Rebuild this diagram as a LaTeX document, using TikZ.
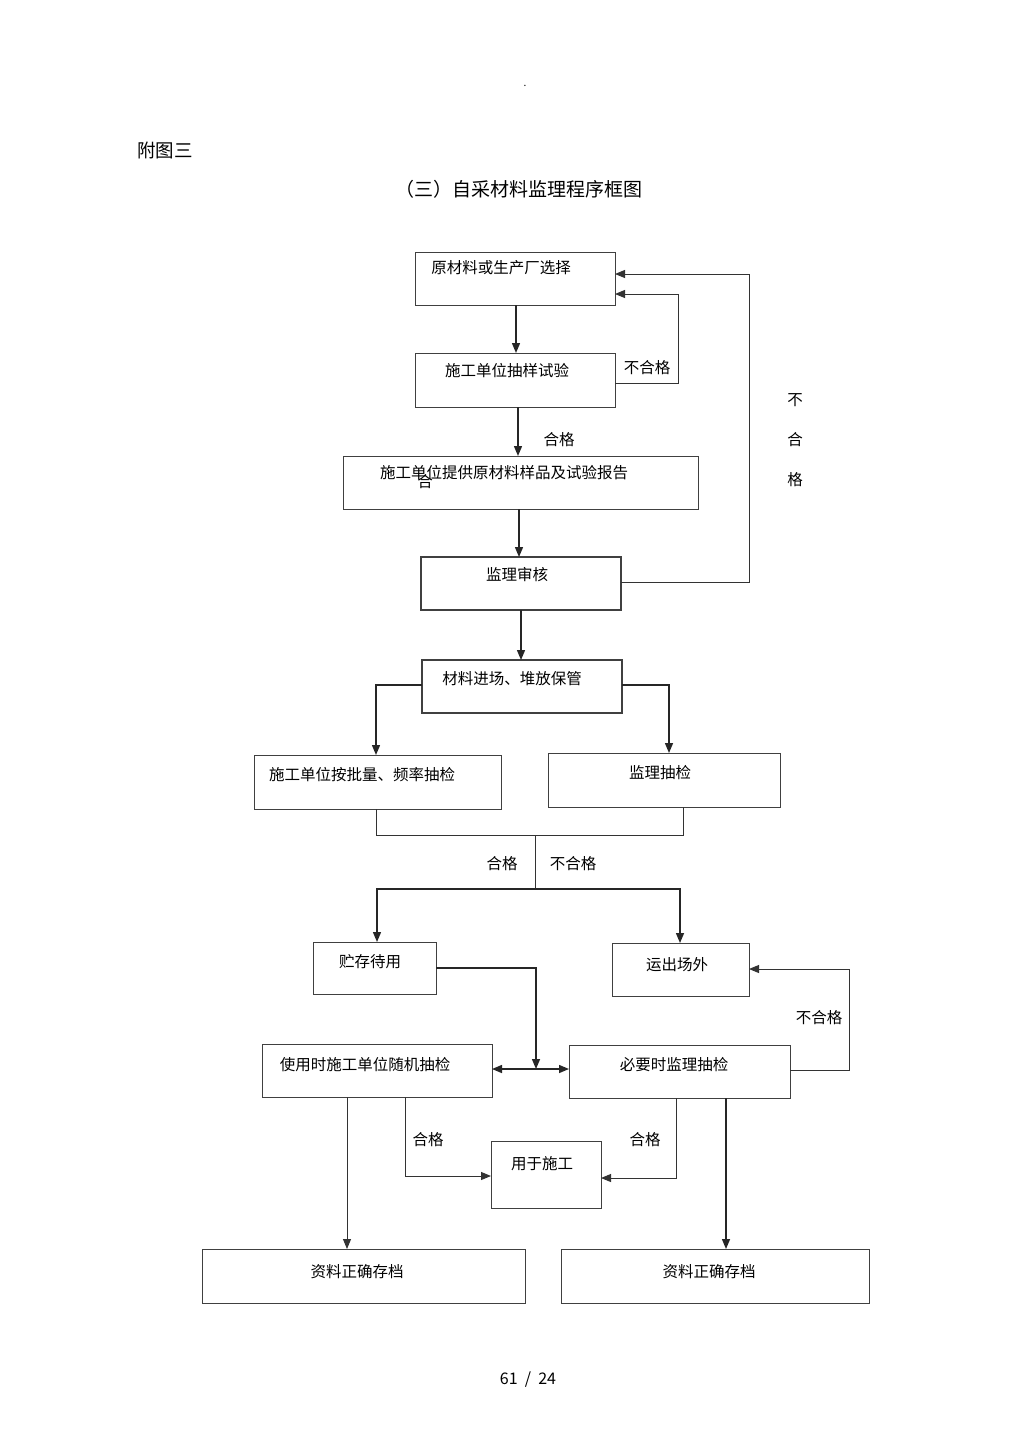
\documentclass[tikz,border=0pt]{standalone}
\usepackage{fontspec}
\setmainfont{Noto Sans CJK SC}
\usetikzlibrary{arrows.meta}
\begin{document}
\begin{tikzpicture}[x=1pt,y=-1pt,
  box/.style={draw=black!75,line width=1pt,inner sep=0pt,outer sep=0pt},
  txt/.style={inner sep=0pt,font=\fontsize{15.5}{16}\selectfont},
  lbl/.style={inner sep=0pt,font=\fontsize{15.5}{16}\selectfont},
  conn/.style={draw=black!80,line width=1pt},
  arr/.style={draw=black!85,line width=1.4pt,-{Triangle[length=10pt,width=8pt]}},
  arrt/.style={draw=black!80,line width=1pt,-{Triangle[length=10pt,width=8pt]}},
  arrtwo/.style={draw=black!85,line width=1.4pt,{Triangle[length=10pt,width=8pt]}-{Triangle[length=10pt,width=8pt]}}]
\useasboundingbox (0,0) rectangle (1024,1449);
\fill[white] (0,0) rectangle (1024,1449);
% header
\node[inner sep=0pt,font=\fontsize{10}{10}\selectfont] (dot) at (525,86) {.};
\node[inner sep=0pt,font=\fontsize{18.5}{19}\selectfont] (fig) at (165,150) {附图三};
\node[inner sep=0pt,font=\fontsize{19}{20}\selectfont] (title) at (519,189) {（三）自采材料监理程序框图};
% boxes
\node[box,minimum width=200pt,minimum height=53pt] (b1) at (515,278.5) {};
\node[box,minimum width=200pt,minimum height=54pt] (b2) at (515,380) {};
\node[box,minimum width=355pt,minimum height=53pt] (b3) at (520.5,482.5) {};
\node[box,minimum width=200pt,minimum height=53pt,line width=1.3pt] (b4) at (521,583.5) {};
\node[box,minimum width=200pt,minimum height=53pt,line width=1.3pt] (b5) at (522,686.5) {};
\node[box,minimum width=247pt,minimum height=54pt] (b6) at (377.5,782) {};
\node[box,minimum width=232pt,minimum height=54pt] (b7) at (664,780) {};
\node[box,minimum width=123pt,minimum height=52pt] (b8) at (374.5,968) {};
\node[box,minimum width=137pt,minimum height=53pt] (b9) at (680.5,969.5) {};
\node[box,minimum width=230pt,minimum height=53pt] (b10) at (377,1070.5) {};
\node[box,minimum width=221pt,minimum height=53pt] (b11) at (679.5,1071.5) {};
\node[box,minimum width=110pt,minimum height=67pt] (b12) at (546,1174.5) {};
\node[box,minimum width=323pt,minimum height=54pt] (b13) at (363.5,1276) {};
\node[box,minimum width=308pt,minimum height=54pt] (b14) at (715,1276) {};
% box texts
\node[txt] (t1) at (501,268) {原材料或生产厂选择};
\node[txt] (t2) at (507,371) {施工单位抽样试验};
\node[txt] (t3) at (504,473) {施工单位提供原材料样品及试验报告};
\node[txt] (t3b) at (425,482) {合};
\node[txt] (t4) at (517,575) {监理审核};
\node[txt] (t5) at (512,679) {材料进场、堆放保管};
\node[txt] (t6) at (362,775) {施工单位按批量、频率抽检};
\node[txt] (t7) at (660,773) {监理抽检};
\node[txt] (t8) at (370,962) {贮存待用};
\node[txt] (t9) at (677,965) {运出场外};
\node[txt] (t10) at (365,1065) {使用时施工单位随机抽检};
\node[txt] (t11) at (674,1065) {必要时监理抽检};
\node[txt] (t12) at (542,1164) {用于施工};
\node[txt] (t13) at (357,1272) {资料正确存档};
\node[txt] (t14) at (709,1272) {资料正确存档};
% labels
\node[lbl] (l1) at (647,368) {不合格};
\node[lbl] (l2) at (559,440) {合格};
\node[lbl] (l3a) at (795,400) {不};
\node[lbl] (l3b) at (795,440) {合};
\node[lbl] (l3c) at (795,480) {格};
\node[lbl] (l4) at (502,864) {合格};
\node[lbl] (l5) at (573,864) {不合格};
\node[lbl] (l6) at (819,1018) {不合格};
\node[lbl] (l7) at (428,1140) {合格};
\node[lbl] (l8) at (645,1140) {合格};
% connectors
\draw[arr] (516,0 |- b1.south) -- (516,0 |- b2.north);
\draw[arrt] (b2.east |- 0,383) -- (678,383) -- (678,294) -- (b1.east |- 0,294);
\draw[arr] (518,0 |- b2.south) -- (518,0 |- b3.north);
\draw[arr] (519,0 |- b3.south) -- (519,0 |- b4.north);
\draw[arrt] (b4.east |- 0,582) -- (749,582) -- (749,274) -- (b1.east |- 0,274);
\draw[arr] (521,0 |- b4.south) -- (521,0 |- b5.north);
\draw[arr] (b5.west |- 0,685) -| (376,0 |- b6.north);
\draw[arr] (b5.east |- 0,685) -| (669,0 |- b7.north);
\draw[conn] (376,0 |- b6.south) -- (376,835) -- (683,835) -- (683,0 |- b7.south);
\coordinate (m1) at (535,835);
\coordinate (m2) at (535,889);
\draw[conn] (m1) -- (m2);
\draw[arr] (m2) -| (377,0 |- b8.north);
\draw[arr] (m2) -| (680,0 |- b9.north);
\coordinate (jn) at (536,1069);
\draw[arr] (b8.east |- 0,968) -- (536,968) -- (jn);
\draw[arrtwo] (b10.east |- 0,1069) -- (b11.west |- 0,1069);
\draw[arrt] (b11.east |- 0,1070) -- (849,1070) -- (849,969) -- (b9.east |- 0,969);
\draw[arrt] (347,0 |- b10.south) -- (347,0 |- b13.north);
\draw[arrt] (405,0 |- b10.south) |- (b12.west |- 0,1176);
\draw[arrt] (676,0 |- b11.south) |- (b12.east |- 0,1178);
\draw[arr] (726,0 |- b11.south) -- (726,0 |- b14.north);
% page number
\node[inner sep=0pt,font=\fontsize{16}{17}\selectfont] (pg) at (528,1380) {61\ \ /\ \ 24};
\end{tikzpicture}
\end{document}
